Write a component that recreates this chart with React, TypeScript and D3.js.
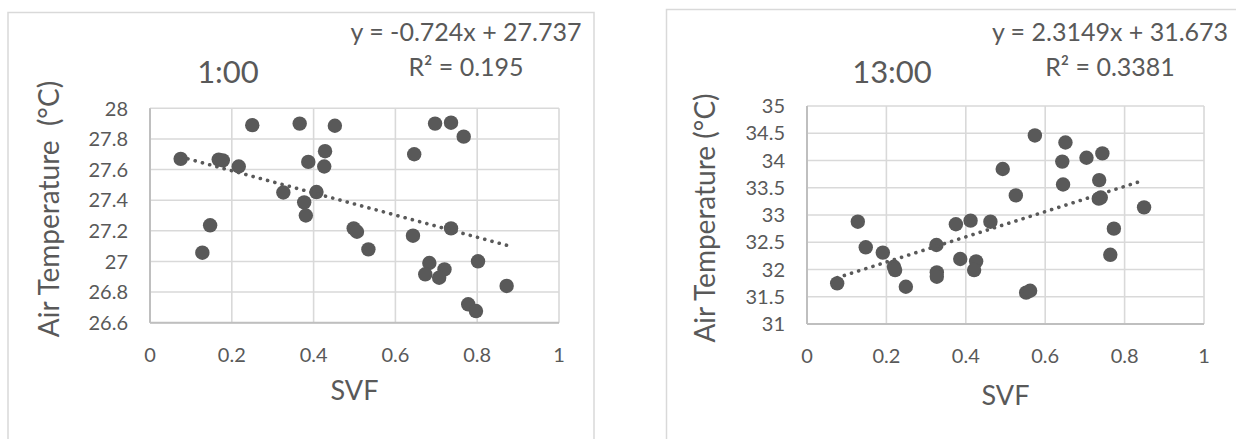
import React from "react";
import * as d3 from "d3";

// ---- Data: 1:00 ----
const svf1: number[] = [0.075,0.168,0.178,0.217,0.250,0.366,0.452,0.428,0.387,0.426,0.326,0.407,0.377,0.381,0.147,0.128,0.498,0.506,0.534,0.643,0.646,0.697,0.736,0.767,0.736,0.683,0.673,0.720,0.707,0.802,0.872,0.778,0.797];
const temp1: number[] = [27.67,27.665,27.66,27.62,27.89,27.90,27.886,27.72,27.65,27.62,27.45,27.453,27.386,27.30,27.236,27.057,27.216,27.194,27.079,27.168,27.70,27.90,27.906,27.815,27.216,26.99,26.916,26.948,26.894,27.001,26.84,26.72,26.676];
const yTicks1: number[] = [26.6,26.8,27,27.2,27.4,27.6,27.8,28];
const fit1 = { slope: -0.724, intercept: 27.737 };
const eq1 = "y = -0.724x + 27.737";
const r2_1 = "R² = 0.195";
const title1 = "1:00";
const yTitle1 = "Air Temperature  (°C)";

// ---- Data: 13:00 ----
const svf2: number[] = [0.076,0.128,0.148,0.191,0.219,0.222,0.249,0.326,0.327,0.327,0.375,0.412,0.386,0.426,0.421,0.462,0.493,0.526,0.574,0.552,0.562,0.651,0.643,0.645,0.704,0.744,0.736,0.735,0.740,0.849,0.773,0.764];
const temp2: number[] = [31.746,32.877,32.407,32.31,32.05,31.99,31.684,32.45,31.948,31.868,32.83,32.896,32.193,32.15,31.99,32.877,33.844,33.36,34.46,31.575,31.61,34.33,33.98,33.56,34.05,34.13,33.64,33.30,33.32,33.14,32.75,32.27];
const yTicks2: number[] = [31,31.5,32,32.5,33,33.5,34,34.5,35];
const fit2 = { slope: 2.3149, intercept: 31.673 };
const eq2 = "y = 2.3149x + 31.673";
const r2_2 = "R² = 0.3381";
const title2 = "13:00";
const yTitle2 = "Air Temperature (°C)";

const xTicks: number[] = [0,0.2,0.4,0.6,0.8,1];
const xTitle = "SVF";

const FONT = "Lato, 'Noto Sans', sans-serif";
const TXT = "#595959";
const MARK = "#595959";
const GRID = "#d9d9d9";
const AXIS = "#bfbfbf";

type ChartProps = {
  xs: number[]; ys: number[]; yTicks: number[];
  fit: { slope: number; intercept: number };
  eq: string; r2: string; title: string; yTitle: string;
  frame: { x: number; y: number; w: number; h: number };
  plot: { l: number; r: number; t: number; b: number };
  titleX: number; eqX: number; yTitleX: number; yTitleY: number; xTitleY: number;
};

function Chart(p: ChartProps) {
  const x = d3.scaleLinear().domain([0, 1]).range([p.plot.l, p.plot.r]);
  const y = d3.scaleLinear().domain([p.yTicks[0], p.yTicks[p.yTicks.length - 1]]).range([p.plot.b, p.plot.t]);
  const x0 = d3.min(p.xs) as number;
  const x1 = d3.max(p.xs) as number;
  const lineGen = d3.line<number>().x((d) => x(d)).y((d) => y(p.fit.slope * d + p.fit.intercept));
  const fmt = (v: number) => String(+v.toFixed(2));
  return (
    <g>
      <rect x={p.frame.x} y={p.frame.y} width={p.frame.w} height={p.frame.h} fill="#fff" stroke={GRID} strokeWidth={1.5} />
      {p.yTicks.map((t) => (
        <line key={"h" + t} x1={p.plot.l} x2={p.plot.r} y1={y(t)} y2={y(t)} stroke={GRID} strokeWidth={1.6} />
      ))}
      {xTicks.map((t) => (
        <line key={"v" + t} x1={x(t)} x2={x(t)} y1={p.plot.t} y2={p.plot.b} stroke={GRID} strokeWidth={1.6} />
      ))}
      <line x1={p.plot.l} x2={p.plot.l} y1={p.plot.t} y2={p.plot.b} stroke={AXIS} strokeWidth={2} />
      <line x1={p.plot.l} x2={p.plot.r} y1={p.plot.b} y2={p.plot.b} stroke={AXIS} strokeWidth={2} />
      {p.yTicks.map((t) => (
        <text key={"yt" + t} x={p.plot.l - 22} y={y(t)} dy="0.36em" textAnchor="end" fontSize={20} fill={TXT} fontFamily={FONT}>{fmt(t)}</text>
      ))}
      {xTicks.map((t) => (
        <text key={"xt" + t} x={x(t)} y={p.plot.b + 32} dy="0.36em" textAnchor="middle" fontSize={20} fill={TXT} fontFamily={FONT}>{fmt(t)}</text>
      ))}
      {p.xs.map((d, i) => (
        <circle key={"c" + i} cx={x(d)} cy={y(p.ys[i])} r={7.2} fill={MARK} />
      ))}
      <path d={lineGen([x0, x1]) || ""} fill="none" stroke={MARK} strokeWidth={3.6} strokeLinecap="round" strokeDasharray="0.1 7.4" />
      <text x={(p.plot.l + p.plot.r) / 2} y={p.xTitleY} textAnchor="middle" fontSize={27} fill={TXT} fontFamily={FONT}>{xTitle}</text>
      <text transform={`translate(${p.yTitleX},${p.yTitleY}) rotate(-90)`} textAnchor="middle" fontSize={28} fill={TXT} fontFamily={FONT} style={{ whiteSpace: "pre" }}>{p.yTitle}</text>
      <text x={p.titleX} y={83} textAnchor="middle" fontSize={31} fill={TXT} fontFamily={FONT}>{p.title}</text>
      <text x={p.eqX} y={41} textAnchor="middle" fontSize={25} fill={TXT} fontFamily={FONT}>{p.eq}</text>
      <text x={p.eqX} y={76} textAnchor="middle" fontSize={25} fill={TXT} fontFamily={FONT}>{p.r2}</text>
    </g>
  );
}

export default function App() {
  return (
    <svg width={1236} height={439} style={{ position: "absolute", left: 0, top: 0, background: "#fff" }}>
      <rect x={0} y={0} width={1236} height={439} fill="#fff" />
      <Chart xs={svf1} ys={temp1} yTicks={yTicks1} fit={fit1} eq={eq1} r2={r2_1} title={title1} yTitle={yTitle1}
        frame={{ x: 8, y: 12.5, w: 586, h: 440 }}
        plot={{ l: 150, r: 559, t: 108.3, b: 322.7 }}
        titleX={228} eqX={466} yTitleX={59} yTitleY={209} xTitleY={400} />
      <Chart xs={svf2} ys={temp2} yTicks={yTicks2} fit={fit2} eq={eq2} r2={r2_2} title={title2} yTitle={yTitle2}
        frame={{ x: 666.5, y: 9.5, w: 600, h: 440 }}
        plot={{ l: 807, r: 1204, t: 106, b: 324 }}
        titleX={892} eqX={1110} yTitleX={715} yTitleY={218} xTitleY={405} />
    </svg>
  );
}
